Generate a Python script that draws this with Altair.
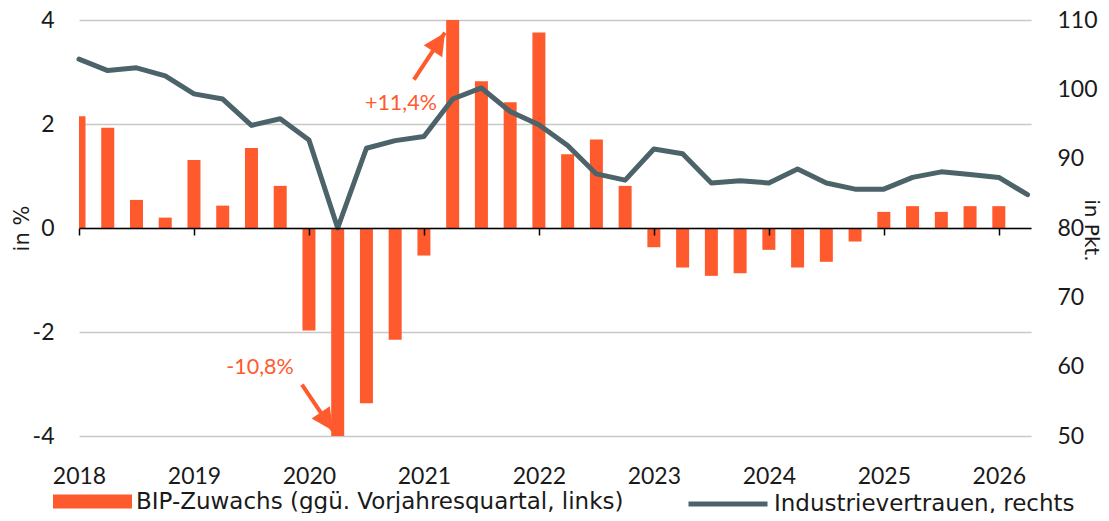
import altair as alt
import pandas as pd

NUMFONT = "Lato"
TXTFONT = "DejaVu Sans"
ORANGE = "#FF5A2D"
SLATE = "#4B6369"
TEXT = "#1a1a1a"
FS = 23

BIP_LABEL = "BIP-Zuwachs (ggü. Vorjahresquartal, links)"
IND_LABEL = "Industrievertrauen, rechts"

# quarters 2018Q1 .. 2026Q2
quarters = [f"{y}Q{q}" for y in range(2018, 2027) for q in range(1, 5)][:34]
years = [2018, 2019, 2020, 2021, 2022, 2023, 2024, 2025, 2026]

# BIP growth vs. prior-year quarter, % (2018Q1 .. 2026Q1)
bip = [2.15, 1.93, 0.54, 0.20, 1.31, 0.43, 1.54, 0.81,
       -1.97, -10.8, -3.37, -2.15, -0.53, 11.4, 2.82, 2.42,
       3.76, 1.42, 1.70, 0.81, -0.37, -0.76, -0.92, -0.87,
       -0.42, -0.76, -0.65, -0.26, 0.31, 0.42, 0.31, 0.42,
       0.42]

# Industrial confidence, points (2018Q1 .. 2026Q2)
industrie = [104.35, 102.7, 103.1, 101.95, 99.35, 98.6, 94.8, 95.75,
             92.7, 80.0, 91.5, 92.6, 93.2, 98.6, 100.2, 96.8,
             94.9, 91.9, 87.8, 86.9, 91.4, 90.7, 86.5, 86.8,
             86.5, 88.5, 86.5, 85.6, 85.6, 87.3, 88.1, 87.7,
             87.3, 84.8]

left_ticks = [-4, -2, 0, 2, 4]
right_ticks = [50, 60, 70, 80, 90, 100, 110]

# annotations (data units of left axis)
ann_text = ["+11,4%", "-10,8%"]
ann_text_x = [2020.80, 2019.574]
ann_text_y = [2.39, -2.70]
arrow_x = [2020.913, 2019.939]
arrow_y = [2.852, -3.013]
arrow_x2 = [2021.183, 2020.209]
arrow_y2 = [3.756, -3.898]
arrow_angle = [33, 146]


def qx(label):
    return int(label[:4]) + (int(label[-1]) - 1) / 4


xq = [qx(q) for q in quarters]

bar_df = pd.DataFrame({"x": xq[:len(bip)], "v": bip, "s": BIP_LABEL})
line_df = pd.DataFrame({"x": xq, "v": industrie, "s": IND_LABEL})
text_df = pd.DataFrame({"x": ann_text_x, "y": ann_text_y, "t": ann_text})
arrow_df = pd.DataFrame({"x": arrow_x, "y": arrow_y, "x2": arrow_x2,
                         "y2": arrow_y2, "a": arrow_angle})

xscale = alt.Scale(domain=[2018, 2026.28], nice=False, zero=False, padding=0)
xaxis = alt.Axis(values=years, format="d", offset=-208, domainColor="black",
                 domainWidth=1.5, tickColor="black", tickWidth=1.5, tickSize=7,
                 labelPadding=230, labelFontSize=FS, labelFont=NUMFONT,
                 labelColor=TEXT, grid=False, title=None, labelFlush=False,
                 zindex=1)

lscale = alt.Scale(domain=[-4, 4], nice=False, zero=False)
laxis = alt.Axis(values=left_ticks, grid=True, gridColor="#c8c8c8",
                 gridWidth=1.5, domain=False, ticks=False, labelPadding=25,
                 labelFontSize=FS, labelFont=NUMFONT, labelColor=TEXT,
                 labelExpr="datum.value < 0 ? '-' + abs(datum.value) : '' + datum.value",
                 title="in %", titleX=-57, titleY=208, titleAngle=-90,
                 titleAlign="center", titleBaseline="middle",
                 titleFont=TXTFONT, titleFontSize=21,
                 titleFontWeight="normal", titleColor=TEXT)

LEG_Y = 442

bars = alt.Chart(bar_df).mark_bar(size=13, clip=True).encode(
    x=alt.X("x:Q", scale=xscale, axis=xaxis),
    y=alt.Y("v:Q", scale=lscale, axis=laxis),
    y2=alt.datum(0),
    fill=alt.Fill("s:N", scale=alt.Scale(domain=[BIP_LABEL], range=[ORANGE]),
                  legend=alt.Legend(orient="none", legendX=-26, legendY=LEG_Y,
                                    symbolType="M-1,-0.18H1V0.18H-1Z",
                                    symbolSize=6241, symbolStrokeWidth=0,
                                    labelFontSize=FS, labelFont=TXTFONT,
                                    labelColor=TEXT, title=None, padding=0,
                                    labelOffset=4, labelLimit=0)),
)

shafts = alt.Chart(arrow_df).mark_rule(color=ORANGE, strokeWidth=4).encode(
    x=alt.X("x:Q", scale=xscale, axis=xaxis),
    y=alt.Y("y:Q", scale=lscale, axis=laxis), x2="x2:Q", y2="y2:Q")

heads = alt.Chart(arrow_df).mark_point(
    shape="M0,0L-0.5,1L0.5,1Z", filled=True, size=1936, opacity=1,
    color=ORANGE).encode(
    x=alt.X("x2:Q", scale=xscale, axis=xaxis),
    y=alt.Y("y2:Q", scale=lscale, axis=laxis),
    angle=alt.Angle("a:Q", scale=None))

texts = alt.Chart(text_df).mark_text(font=NUMFONT, fontSize=21.5, color=ORANGE).encode(
    x=alt.X("x:Q", scale=xscale, axis=xaxis),
    y=alt.Y("y:Q", scale=lscale, axis=laxis), text="t:N")

left = alt.layer(bars, shafts, heads, texts)

line = alt.Chart(line_df).mark_line(strokeWidth=5, strokeJoin="round",
                                    strokeCap="round").encode(
    x=alt.X("x:Q", scale=xscale, axis=xaxis),
    y=alt.Y("v:Q", scale=alt.Scale(domain=[50, 110], nice=False, zero=False),
            axis=alt.Axis(orient="right", values=right_ticks,
                          grid=False, domain=False, ticks=False,
                          labelPadding=26, labelFontSize=FS, labelFont=NUMFONT,
                          labelColor=TEXT, title="in Pkt.", titleX=59,
                          titleY=210, titleAngle=90, titleAlign="center",
                          titleBaseline="middle", titleFont=TXTFONT,
                          titleFontSize=20, titleFontWeight="normal",
                          titleColor=TEXT)),
    stroke=alt.Stroke("s:N", scale=alt.Scale(domain=[IND_LABEL], range=[SLATE]),
                      legend=alt.Legend(orient="none", legendX=607, legendY=LEG_Y,
                                        symbolType="stroke", symbolSize=6241,
                                        symbolStrokeWidth=5, labelFontSize=FS,
                                        labelFont=TXTFONT, labelColor=TEXT,
                                        title=None, padding=0, labelOffset=4,
                                        labelLimit=0)),
)

chart = alt.layer(left, line).resolve_scale(
    y="independent", fill="independent", stroke="independent"
).properties(
    width=952, height=416,
    background="white",
    autosize=alt.AutoSizeParams(type="none"),
    padding={"left": 71, "top": 12, "right": 70, "bottom": 77},
).configure_view(stroke=None)

chart.save("out.html", embed_options={"renderer": "svg", "actions": False})
